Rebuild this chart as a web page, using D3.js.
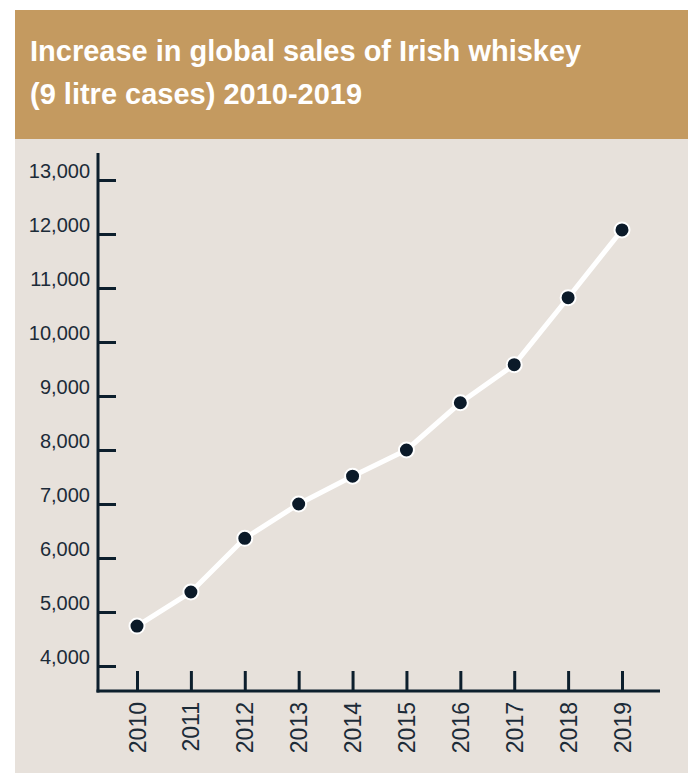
<!doctype html>
<html>
<head>
<meta charset="utf-8">
<script src="https://d3js.org/d3.v7.min.js"></script>
<style>
  body { margin: 0; background: #ffffff; }
  svg { display: block; font-family: "Liberation Sans", Arial, sans-serif; }
</style>
</head>
<body>
<script>
// data
var years = ["2010", "2011", "2012", "2013", "2014", "2015", "2016", "2017", "2018", "2019"];
var sales = [4740, 5370, 6365, 7000, 7515, 8000, 8875, 9580, 10820, 12075];
var yTicks = [4000, 5000, 6000, 7000, 8000, 9000, 10000, 11000, 12000, 13000];
var titleLines = ["Increase in global sales of Irish whiskey", "(9 litre cases) 2010-2019"];

var W = 691, H = 773;
var ink = "#0d1f2d";

var svg = d3.select("body").append("svg")
    .attr("width", W)
    .attr("height", H);

// panels
svg.append("rect")
    .attr("x", 15).attr("y", 139)
    .attr("width", 673).attr("height", H - 139)
    .attr("fill", "#e7e1db");

svg.append("rect")
    .attr("x", 15).attr("y", 10)
    .attr("width", 673).attr("height", 129)
    .attr("fill", "#c49a60");

svg.selectAll(".title")
    .data(titleLines)
    .enter().append("text")
    .attr("class", "title")
    .attr("x", 30)
    .attr("y", function(d, i) { return 61 + i * 43; })
    .attr("fill", "#ffffff")
    .attr("font-size", "29px")
    .attr("font-weight", "bold")
    .text(function(d) { return d; });

var xScale = d3.scalePoint().domain(years).range([137, 622]),
    yScale = d3.scaleLinear().domain([4000, 13000]).range([666, 180]);

// y axis
var gy = svg.append("g")
    .attr("transform", "translate(98,0)")
    .call(d3.axisLeft(yScale)
        .tickValues(yTicks)
        .tickSize(-18)
        .tickPadding(8)
        .tickFormat(d3.format(",")));

gy.select(".domain").remove();
gy.selectAll(".tick line").attr("stroke", ink).attr("stroke-width", 3);
gy.selectAll(".tick text")
    .attr("dy", -3)
    .attr("fill", "#1c2b38")
    .attr("font-size", "20px")
    .attr("font-family", "Liberation Sans, Arial, sans-serif");

// x axis
var gx = svg.append("g")
    .attr("transform", "translate(0,691)")
    .call(d3.axisBottom(xScale).tickSize(-20));

gx.select(".domain").remove();
gx.selectAll(".tick line").attr("stroke", ink).attr("stroke-width", 3);
gx.selectAll(".tick text")
    .attr("transform", "rotate(-90)")
    .attr("x", -11)
    .attr("y", 0)
    .attr("dy", "0.35em")
    .attr("text-anchor", "end")
    .attr("fill", "#1c2b38")
    .attr("font-size", "23px")
    .attr("font-family", "Liberation Sans, Arial, sans-serif");

// axis lines
svg.append("line")
    .attr("x1", 98).attr("x2", 98)
    .attr("y1", 153).attr("y2", 692.5)
    .attr("stroke", ink).attr("stroke-width", 3);

svg.append("line")
    .attr("x1", 96.5).attr("x2", 660)
    .attr("y1", 691).attr("y2", 691)
    .attr("stroke", ink).attr("stroke-width", 3);

// series
var line = d3.line()
    .x(function(d, i) { return xScale(years[i]); })
    .y(function(d) { return yScale(d); });

svg.append("path")
    .datum(sales)
    .attr("d", line)
    .attr("fill", "none")
    .attr("stroke", "#ffffff")
    .attr("stroke-width", 5)
    .attr("stroke-linejoin", "round");

svg.selectAll(".dot")
    .data(sales)
    .enter().append("circle")
    .attr("class", "dot")
    .attr("cx", function(d, i) { return xScale(years[i]); })
    .attr("cy", function(d) { return yScale(d); })
    .attr("r", 7.5)
    .attr("fill", "#0b1a29")
    .attr("stroke", "#ffffff")
    .attr("stroke-width", 2);
</script>
</body>
</html>
